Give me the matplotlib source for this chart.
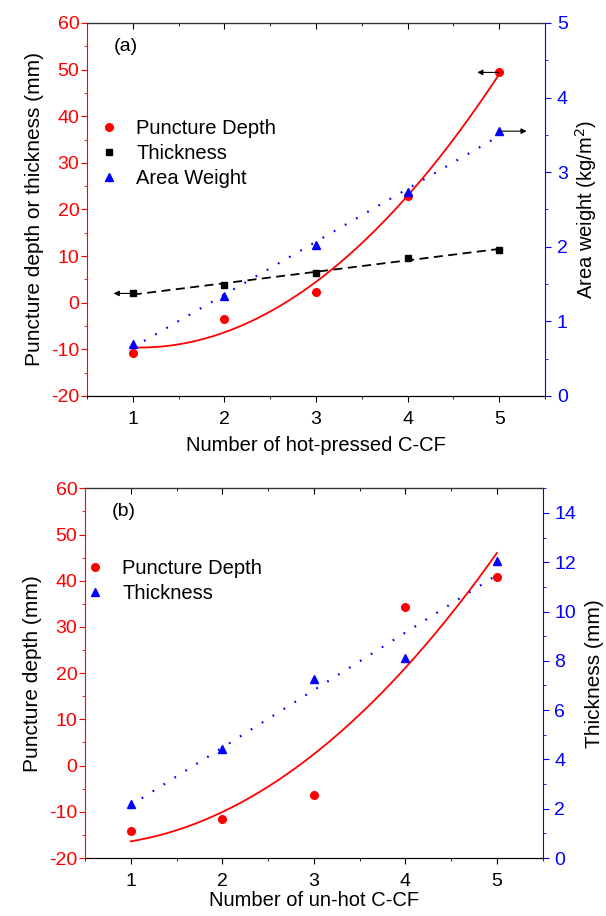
import numpy as np
import matplotlib
matplotlib.use("Agg")
import matplotlib.pyplot as plt
from matplotlib.ticker import MultipleLocator

plt.rcParams["font.family"] = ["Liberation Sans", "DejaVu Sans"]
plt.rcParams["font.size"] = 14
plt.rcParams["axes.unicode_minus"] = False

# data
layers = [1, 2, 3, 4, 5]

# panel (a): hot-pressed C-CF
depth_a = [-10.7, -3.4, 2.3, 22.9, 49.4]
thick_a = [2.0, 3.9, 6.3, 9.6, 11.4]
weight_a = [0.70, 1.34, 2.02, 2.73, 3.55]

# panel (b): un-hot C-CF
depth_b = [-14.2, -11.5, -6.3, 34.3, 40.9]
thick_b = [2.21, 4.43, 7.27, 8.11, 12.04]

RED = "#ff0000"
BLUE = "#0000ff"


def style_axes(ax, ax2, rmax, rmajor, rminor):
    ax.set_xlim(0.5, 5.5)
    ax.set_ylim(-20, 60)
    ax.xaxis.set_major_locator(MultipleLocator(1))
    ax.xaxis.set_minor_locator(MultipleLocator(0.5))
    ax.yaxis.set_major_locator(MultipleLocator(10))
    ax.yaxis.set_minor_locator(MultipleLocator(5))
    ax2.set_ylim(0, rmax)
    ax2.yaxis.set_major_locator(MultipleLocator(rmajor))
    ax2.yaxis.set_minor_locator(MultipleLocator(rminor))

    ax.tick_params(which="both", direction="out", labelsize=14)
    ax.tick_params(which="major", length=4.5)
    ax.tick_params(which="minor", length=2.5)
    ax.tick_params(axis="x", pad=6)
    ax.tick_params(axis="y", which="both", colors=RED, pad=1)
    ax2.tick_params(which="both", direction="out", colors=BLUE, labelsize=14, pad=4)
    ax2.tick_params(which="major", length=4.5)
    ax2.tick_params(which="minor", length=2.5)

    ax.spines["left"].set_color(RED)
    ax.spines["right"].set_visible(False)
    ax2.spines["left"].set_visible(False)
    ax2.spines["right"].set_color(BLUE)
    ax2.spines["top"].set_color("#333333")

    top = ax.secondary_xaxis("top")
    top.xaxis.set_major_locator(MultipleLocator(1))
    top.xaxis.set_minor_locator(MultipleLocator(0.5))
    top.tick_params(which="both", direction="in", labeltop=False)
    top.tick_params(which="major", length=4.5)
    top.tick_params(which="minor", length=2.5)


fig = plt.figure(figsize=(6.06, 9.16), dpi=100)
xs = np.linspace(1, 5, 200)

# ---------- panel (a) ----------
ax = fig.add_axes([0.1436, 0.5677, 0.7557, 0.4072])
ax2 = ax.twinx()
style_axes(ax, ax2, 5, 1, 0.5)

p = np.polyfit(layers, depth_a, 2)
ax.plot(xs, np.polyval(p, xs), color=RED, lw=1.3)
p = np.polyfit(layers, thick_a, 1)
ax.plot(xs, np.polyval(p, xs), color="black", lw=1.3, ls=(0, (5, 3)))
h1, = ax.plot(layers, depth_a, "o", color=RED, ms=5.5, label="Puncture Depth")
h2, = ax.plot(layers, thick_a, "s", color="black", ms=5, label="Thickness")

p = np.polyfit(layers, weight_a, 1)
ax2.plot(xs, np.polyval(p, xs), color=BLUE, lw=1.6, ls=(0, (0.8, 5)))
h3, = ax2.plot(layers, weight_a, "^", color=BLUE, ms=6, label="Area Weight")

arrow = dict(arrowstyle="-|>", color="black", lw=0.8, shrinkA=0, shrinkB=0,
             mutation_scale=8)
ax.annotate("", xy=(4.76, depth_a[4]), xytext=(5, depth_a[4]), arrowprops=arrow)
ax.annotate("", xy=(0.79, thick_a[0]), xytext=(1, thick_a[0]), arrowprops=arrow)
ax2.annotate("", xy=(5.30, weight_a[4]), xytext=(5, weight_a[4]), arrowprops=arrow)

ax.text(0.058, 0.96, "(a)", transform=ax.transAxes, fontsize=14, va="top")
ax.legend(handles=[h1, h2, h3], loc="upper left", bbox_to_anchor=(0.0, 0.77),
          frameon=False, handlelength=1.2, handletextpad=0.75, borderpad=0,
          labelspacing=0.3, fontsize=14.5)
ax.set_xlabel("Number of hot-pressed C-CF", fontsize=14.5, labelpad=6)
ax.set_ylabel("Puncture depth or thickness (mm)", fontsize=15, labelpad=5)
ax2.set_ylabel("Area weight (kg/m$^2$)", fontsize=14.5, labelpad=4)

# ---------- panel (b) ----------
bx = fig.add_axes([0.1403, 0.0633, 0.7552, 0.4036])
bx2 = bx.twinx()
style_axes(bx, bx2, 15, 2, 1)

p = np.polyfit(layers, depth_b, 2)
bx.plot(xs, np.polyval(p, xs), color=RED, lw=1.3)
g1, = bx.plot(layers, depth_b, "o", color=RED, ms=5.5, label="Puncture Depth")

p = np.polyfit(layers, thick_b, 1)
bx2.plot(xs, np.polyval(p, xs), color=BLUE, lw=1.6, ls=(0, (0.8, 5)))
g2, = bx2.plot(layers, thick_b, "^", color=BLUE, ms=6, label="Thickness")

bx.text(0.058, 0.96, "(b)", transform=bx.transAxes, fontsize=14, va="top")
bx.legend(handles=[g1, g2], loc="upper left", bbox_to_anchor=(-0.027, 0.835),
          frameon=False, handlelength=1.2, handletextpad=0.75, borderpad=0,
          labelspacing=0.3, fontsize=14.5)
bx.set_xlabel("Number of un-hot C-CF", fontsize=14.5, labelpad=1)
bx.set_ylabel("Puncture depth (mm)", fontsize=15, labelpad=5)
bx2.set_ylabel("Thickness (mm)", fontsize=15, labelpad=6)

fig.savefig("out.png", dpi=100)
